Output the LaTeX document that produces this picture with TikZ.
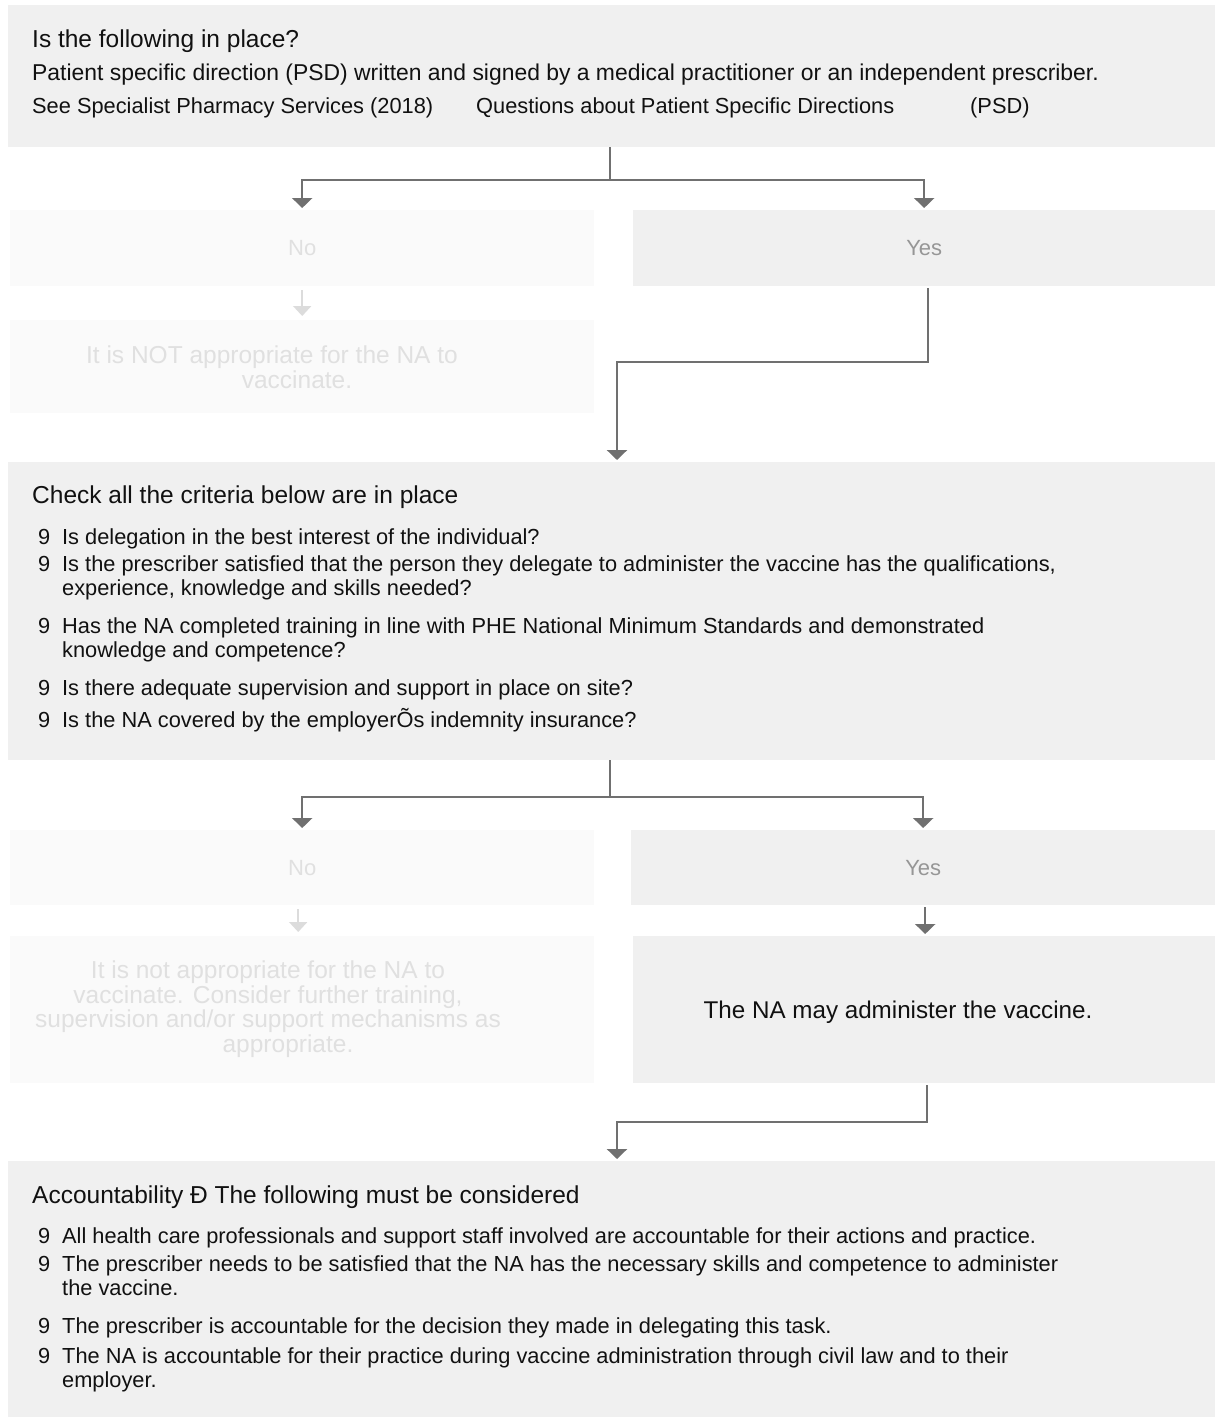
\documentclass[tikz,border=0pt]{standalone}
\usepackage{fontspec}
\setmainfont{Liberation Sans}
\usetikzlibrary{arrows.meta,positioning}
\definecolor{boxgray}{RGB}{240,240,240}
\definecolor{fadegray}{RGB}{250,250,250}
\definecolor{fadetext}{RGB}{224,224,224}
\definecolor{yestext}{RGB}{150,150,150}
\definecolor{arrgray}{RGB}{112,112,112}
\definecolor{fadearr}{RGB}{220,220,220}
\definecolor{inktext}{RGB}{17,17,17}
\newcommand\tickmark{\makebox[24pt][l]{9}}
\newcommand\tickgap{\hspace*{24pt}}

\begin{document}
\begin{tikzpicture}[x=1pt,y=-1pt,
  box/.style={fill=boxgray,anchor=north west,inner sep=0pt},
  fbox/.style={fill=fadegray,anchor=north west,inner sep=0pt},
  hdr/.style={anchor=base west,inner sep=0pt,text=inktext,font=\fontsize{24.5}{28}\selectfont},
  txt/.style={anchor=base west,inner sep=0pt,text=inktext,align=left,font=\fontsize{21.8}{24}\selectfont},
  ans/.style={inner sep=0pt,font=\fontsize{22}{26}\selectfont},
  fnote/.style={inner sep=0pt,align=center,text=fadetext,font=\fontsize{24.5}{24.5}\selectfont},
  link/.style={draw=arrgray,line width=2.5pt},
  arr/.style={link,-{Triangle[width=20pt,length=10pt]},shorten >=2pt},
  farr/.style={draw=fadearr,line width=2pt,-{Triangle[width=18pt,length=10pt]},shorten >=4pt,shorten <=4pt}]

  \useasboundingbox (0,0) rectangle (1215,1417);

  % boxes
  \node[box,minimum width=1207pt,minimum height=142pt] (top) at (8,5) {};
  \node[fbox,minimum width=584pt,minimum height=76pt] (no1) at (10,210) {};
  \node[box,minimum width=582pt,minimum height=76pt] (yes1) at (633,210) {};
  \node[fbox,minimum width=584pt,minimum height=93pt] (no1b) at (10,320) {};
  \node[box,minimum width=1207pt,minimum height=298pt] (mid) at (8,462) {};
  \node[fbox,minimum width=584pt,minimum height=75pt] (no2) at (10,830) {};
  \node[box,minimum width=584pt,minimum height=75pt] (yes2) at (631,830) {};
  \node[fbox,minimum width=584pt,minimum height=147pt] (no2b) at (10,936) {};
  \node[box,minimum width=582pt,minimum height=147pt] (na) at (633,936) {};
  \node[box,minimum width=1207pt,minimum height=256pt] (acc) at (8,1161) {};

  % first question
  \node[hdr] (q1) at (32,47) {Is the following in place?};
  \node[txt,font=\fontsize{22.9}{24}\selectfont] (psd) at (32,80) {Patient specific direction (PSD) written and signed by a medical practitioner or an independent prescriber.};
  \node[txt] (sps) at (32,113) {See Specialist Pharmacy Services (2018)};
  \node[txt] (qpsd) at (476,113) {Questions about Patient Specific Directions};
  \node[txt] (psdtag) at (970,113) {(PSD)};

  \node[ans,text=fadetext] (notxt1) at (no1) {No};
  \node[ans,text=yestext] (yestxt1) at (yes1) {Yes};
  \node[fnote] (stop1) at (272,367) {It is NOT appropriate for the NA to\\\hspace*{50pt}vaccinate.};

  % criteria
  \node[hdr] (q2) at (32,503) {Check all the criteria below are in place};
  \node[txt] (c1) at (38,544) {\tickmark Is delegation in the best interest of the individual?};
  \node[txt] (c2) at (38,595) {\tickmark Is the prescriber satisfied that the person they delegate to administer the vaccine has the qualifications,\\\tickgap experience, knowledge and skills needed?};
  \node[txt] (c3) at (38,657) {\tickmark Has the NA completed training in line with PHE National Minimum Standards and demonstrated\\\tickgap knowledge and competence?};
  \node[txt] (c4) at (38,695) {\tickmark Is there adequate supervision and support in place on site?};
  \node[txt] (c5) at (38,727) {\tickmark Is the NA covered by the employer\~{O}s indemnity insurance?};

  \node[ans,text=fadetext] (notxt2) at (no2) {No};
  \node[ans,text=yestext] (yestxt2) at (yes2) {Yes};
  \node[fnote] (stop2) at (268,1009) {It is not appropriate for the NA to\\vaccinate. Consider further training,\\supervision and/or support mechanisms as\\\hspace*{40pt}appropriate.};
  \node[text=inktext,inner sep=0pt,font=\fontsize{24.2}{28}\selectfont] (go) at (898,1012) {The NA may administer the vaccine.};

  % accountability
  \node[hdr] (q3) at (32,1203) {Accountability Ð The following must be considered};
  \node[txt] (a1) at (38,1243) {\tickmark All health care professionals and support staff involved are accountable for their actions and practice.};
  \node[txt] (a2) at (38,1295) {\tickmark The prescriber needs to be satisfied that the NA has the necessary skills and competence to administer\\\tickgap the vaccine.};
  \node[txt] (a3) at (38,1333) {\tickmark The prescriber is accountable for the decision they made in delegating this task.};
  \node[txt] (a4) at (38,1387) {\tickmark The NA is accountable for their practice during vaccine administration through civil law and to their\\\tickgap employer.};

  % connectors
  \coordinate (split1) at (610,180);
  \draw[link] (top.south -| split1) -- (split1);
  \draw[arr] (split1) -| (no1.north);
  \draw[arr] (split1) -| (yes1.north);
  \draw[farr] (no1.south) -- (no1b.north);
  \coordinate (bend1) at (617,362);
  \draw[arr,shorten <=2pt] ([xshift=4pt]yes1.south) |- (bend1) -- (mid.north -| bend1);

  \coordinate (split2) at (610,797);
  \draw[link] (mid.south -| split2) -- (split2);
  \draw[arr] (split2) -| (no2.north);
  \draw[arr] (split2) -| (yes2.north);
  \draw[farr] ([xshift=-4pt]no2.south) -- ([xshift=-4pt]no2b.north);
  \draw[arr,shorten <=2pt] ([xshift=2pt]yes2.south) -- ([xshift=2pt]yes2.south |- na.north);
  \coordinate (bend2) at (617,1122);
  \draw[arr,shorten <=2pt] ([xshift=3pt]na.south) |- (bend2) -- (acc.north -| bend2);
\end{tikzpicture}
\end{document}
